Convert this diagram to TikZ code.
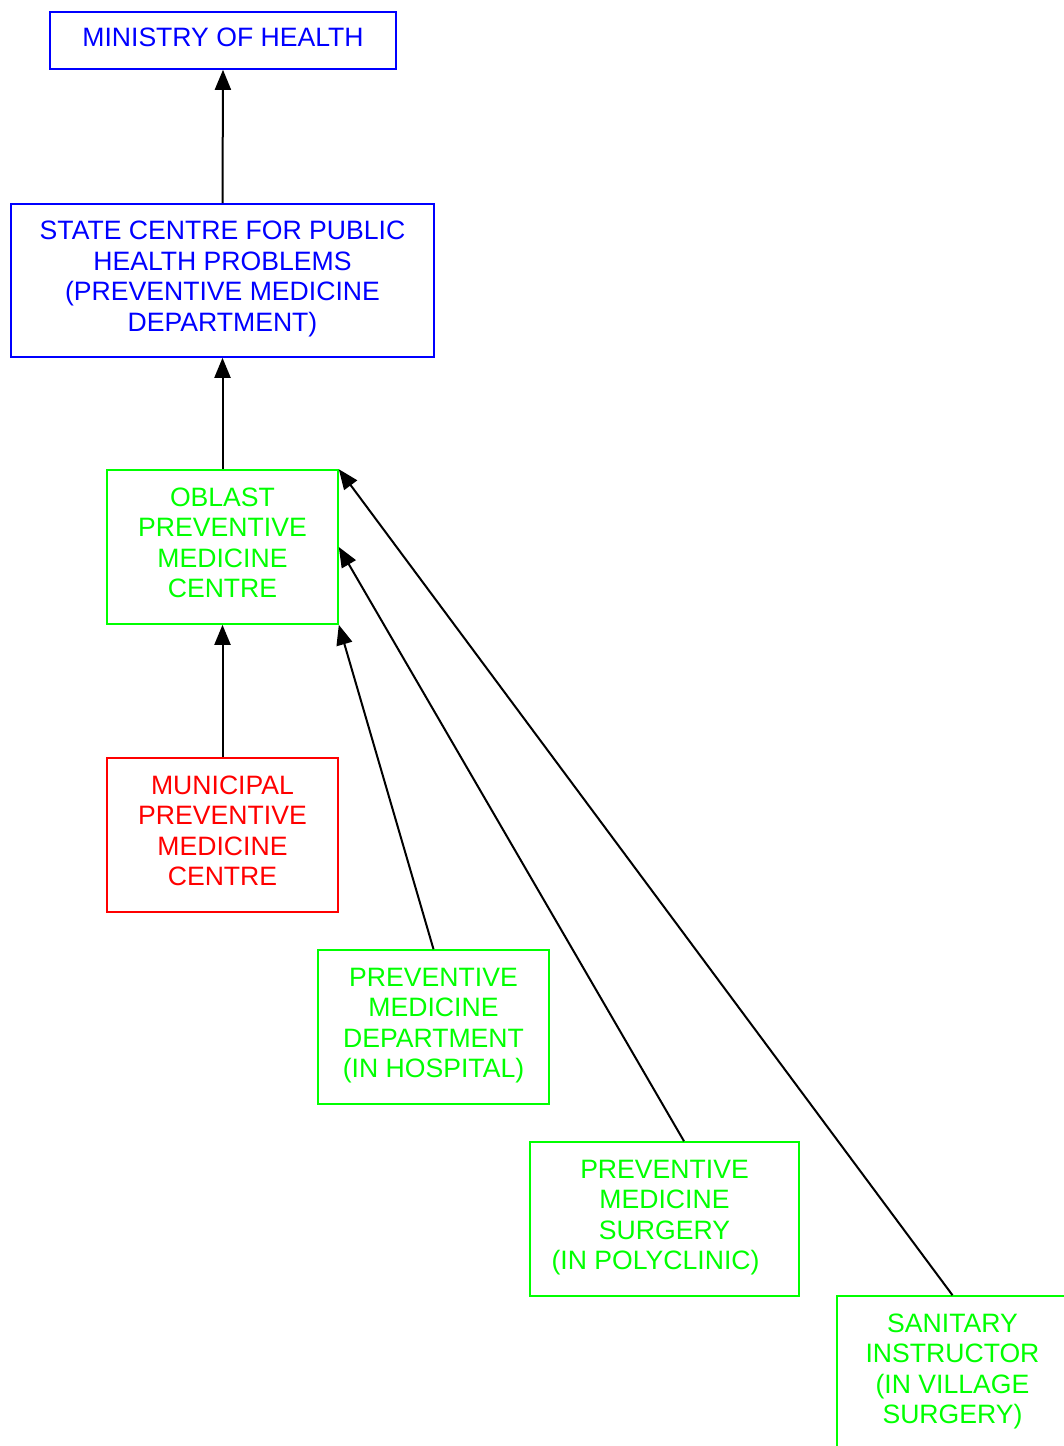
\documentclass[tikz,border=0pt]{standalone}
\usepackage{fontspec}
\setmainfont{Liberation Sans}
\usetikzlibrary{arrows.meta}
\definecolor{gvblue}{RGB}{0,0,255}
\definecolor{gvgreen}{RGB}{0,255,0}
\definecolor{gvred}{RGB}{255,0,0}
\begin{document}
\begin{tikzpicture}[x=1pt,y=-1pt,
  box/.style={draw, line width=1.6pt, rectangle, inner sep=0pt, align=center,
    font=\fontsize{26.6}{30.5}\selectfont, minimum height=154pt, minimum width=231pt,
    text depth=8.8pt},
  bluebox/.style={box, draw=gvblue, text=gvblue},
  greenbox/.style={box, draw=gvgreen, text=gvgreen},
  redbox/.style={box, draw=gvred, text=gvred},
  arr/.style={line width=2pt, draw=black, -{Triangle[length=20pt,width=16pt]}}]
\useasboundingbox (0,0) rectangle (1064,1446);
\clip (0,0) rectangle (1064,1446);
\node[bluebox, minimum width=346pt, minimum height=57pt, text depth=6pt] (min) at (223,40.5) {MINISTRY OF HEALTH};
\node[bluebox, minimum width=423pt, minimum height=153pt] (state) at (222.5,280.5) {STATE CENTRE FOR PUBLIC\\HEALTH PROBLEMS\\(PREVENTIVE MEDICINE\\DEPARTMENT)};
\node[greenbox] (obl) at (222.5,547) {OBLAST\\PREVENTIVE\\MEDICINE\\CENTRE};
\node[redbox] (mun) at (222.5,835) {MUNICIPAL\\PREVENTIVE\\MEDICINE\\CENTRE};
\node[greenbox] (prev) at (433.5,1027) {PREVENTIVE\\MEDICINE\\DEPARTMENT\\(IN HOSPITAL)};
\node[greenbox, minimum width=269pt] (surg) at (664.5,1219) {PREVENTIVE\\MEDICINE\\SURGERY\\(IN POLYCLINIC)\hspace*{18pt}};
\node[greenbox] (san) at (952.5,1373) {SANITARY\\INSTRUCTOR\\(IN VILLAGE\\SURGERY)};
\coordinate (surgtop) at ([xshift=19.5pt]surg.north);
\draw[arr] (state.north) -- (min.south);
\draw[arr] (obl.north) -- (state.south);
\draw[arr] (mun.north) -- (obl.south);
\draw[arr] (prev.north) -- (obl.south east);
\draw[arr] (surgtop) -- (obl.east);
\draw[arr] (san.north) -- (obl.north east);
\end{tikzpicture}
\end{document}
